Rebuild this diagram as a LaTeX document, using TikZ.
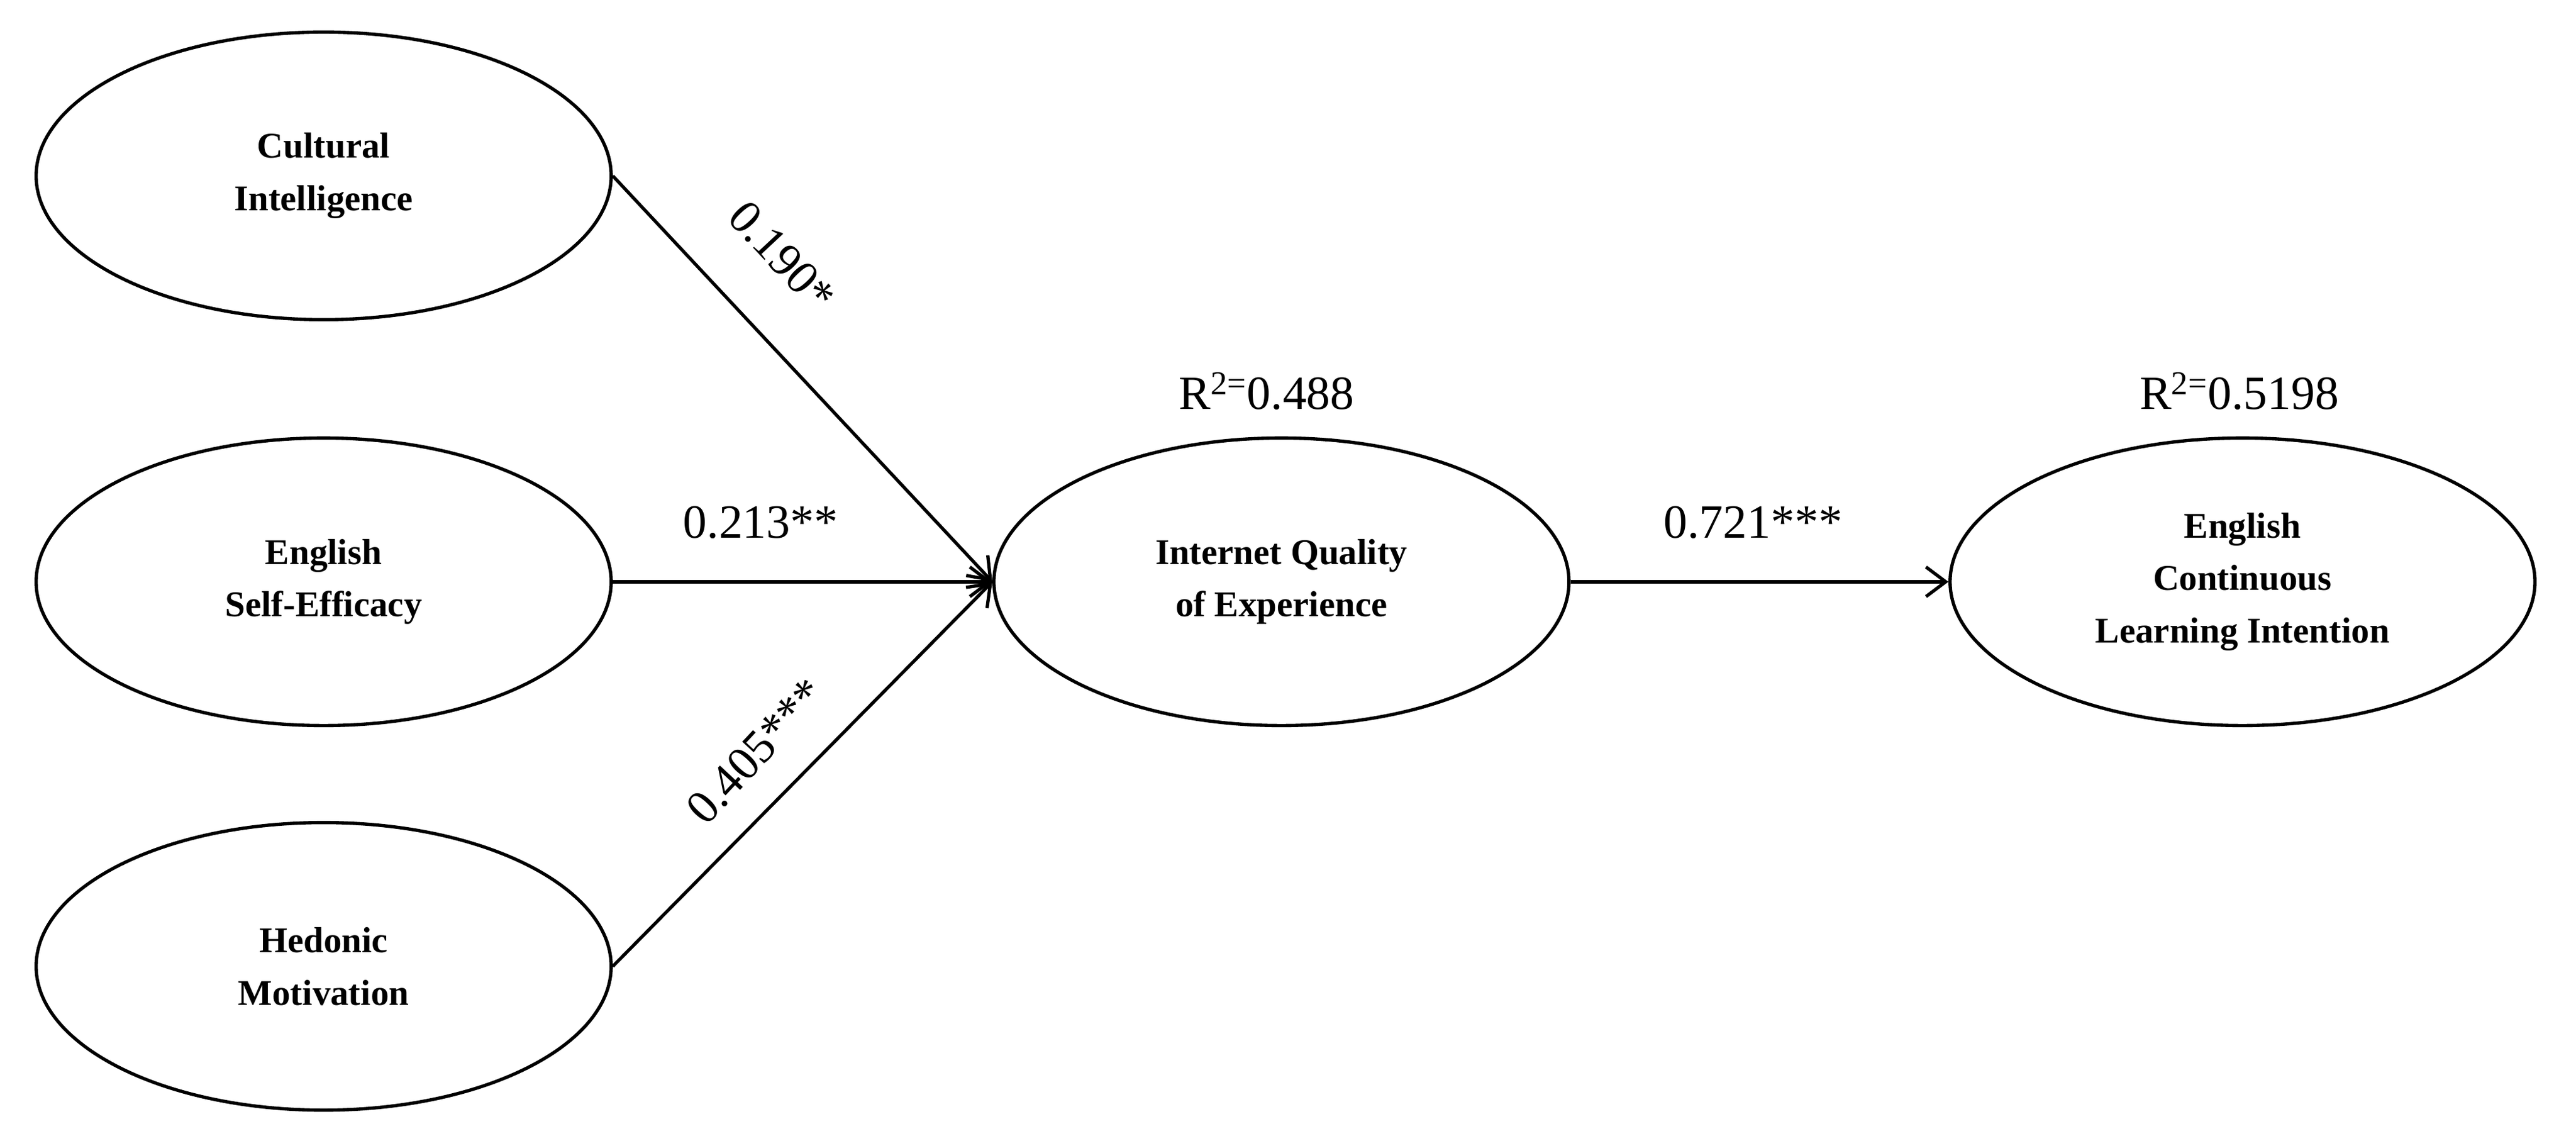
\documentclass[tikz,border=0pt]{standalone}
\usepackage{fontspec}
\setmainfont{Liberation Serif}
\usetikzlibrary{arrows.meta,shapes.geometric}
\begin{document}
\begin{tikzpicture}[x=1pt,y=-1pt,
  lat/.style={draw,ellipse,inner sep=0pt,line width=2pt,minimum width=350pt,minimum height=175pt,align=center,font=\fontsize{22}{32}\selectfont\bfseries},
  path/.style={line width=2pt,-{Straight Barb[length=12pt,width=18pt,line width=2pt]}},
  coef/.style={font=\fontsize{29}{32}\selectfont,inner sep=1pt}]
\useasboundingbox[fill=white] (0,0) rectangle (1568,694);
\node[lat] (ci) at (197,107) {Cultural\\Intelligence};
\node[lat] (se) at (197,354) {English\\Self-Efficacy};
\node[lat] (hm) at (197,588) {Hedonic\\Motivation};
\node[lat] (iq) at (780,354) {Internet Quality\\of Experience};
\node[lat,minimum width=356pt] (el) at (1365,354) {English\\Continuous\\Learning Intention};
\draw[path] (ci.east) -- (iq.west);
\draw[path] (se.east) -- (iq.west);
\draw[path] (hm.east) -- (iq.west);
\draw[path] (iq.east) -- (el.west);
\node[coef,rotate=-47] (l1) at (476,156) {0.190*};
\node[coef] (l2) at (463,318) {0.213**};
\node[coef,rotate=47] (l3) at (460,457) {0.405***};
\node[coef] (l4) at (1067,318) {0.721***};
\node[coef] (r1) at (771,238) {R\textsuperscript{2=}0.488};
\node[coef] (r2) at (1363,238) {R\textsuperscript{2=}0.5198};
\end{tikzpicture}
\end{document}
